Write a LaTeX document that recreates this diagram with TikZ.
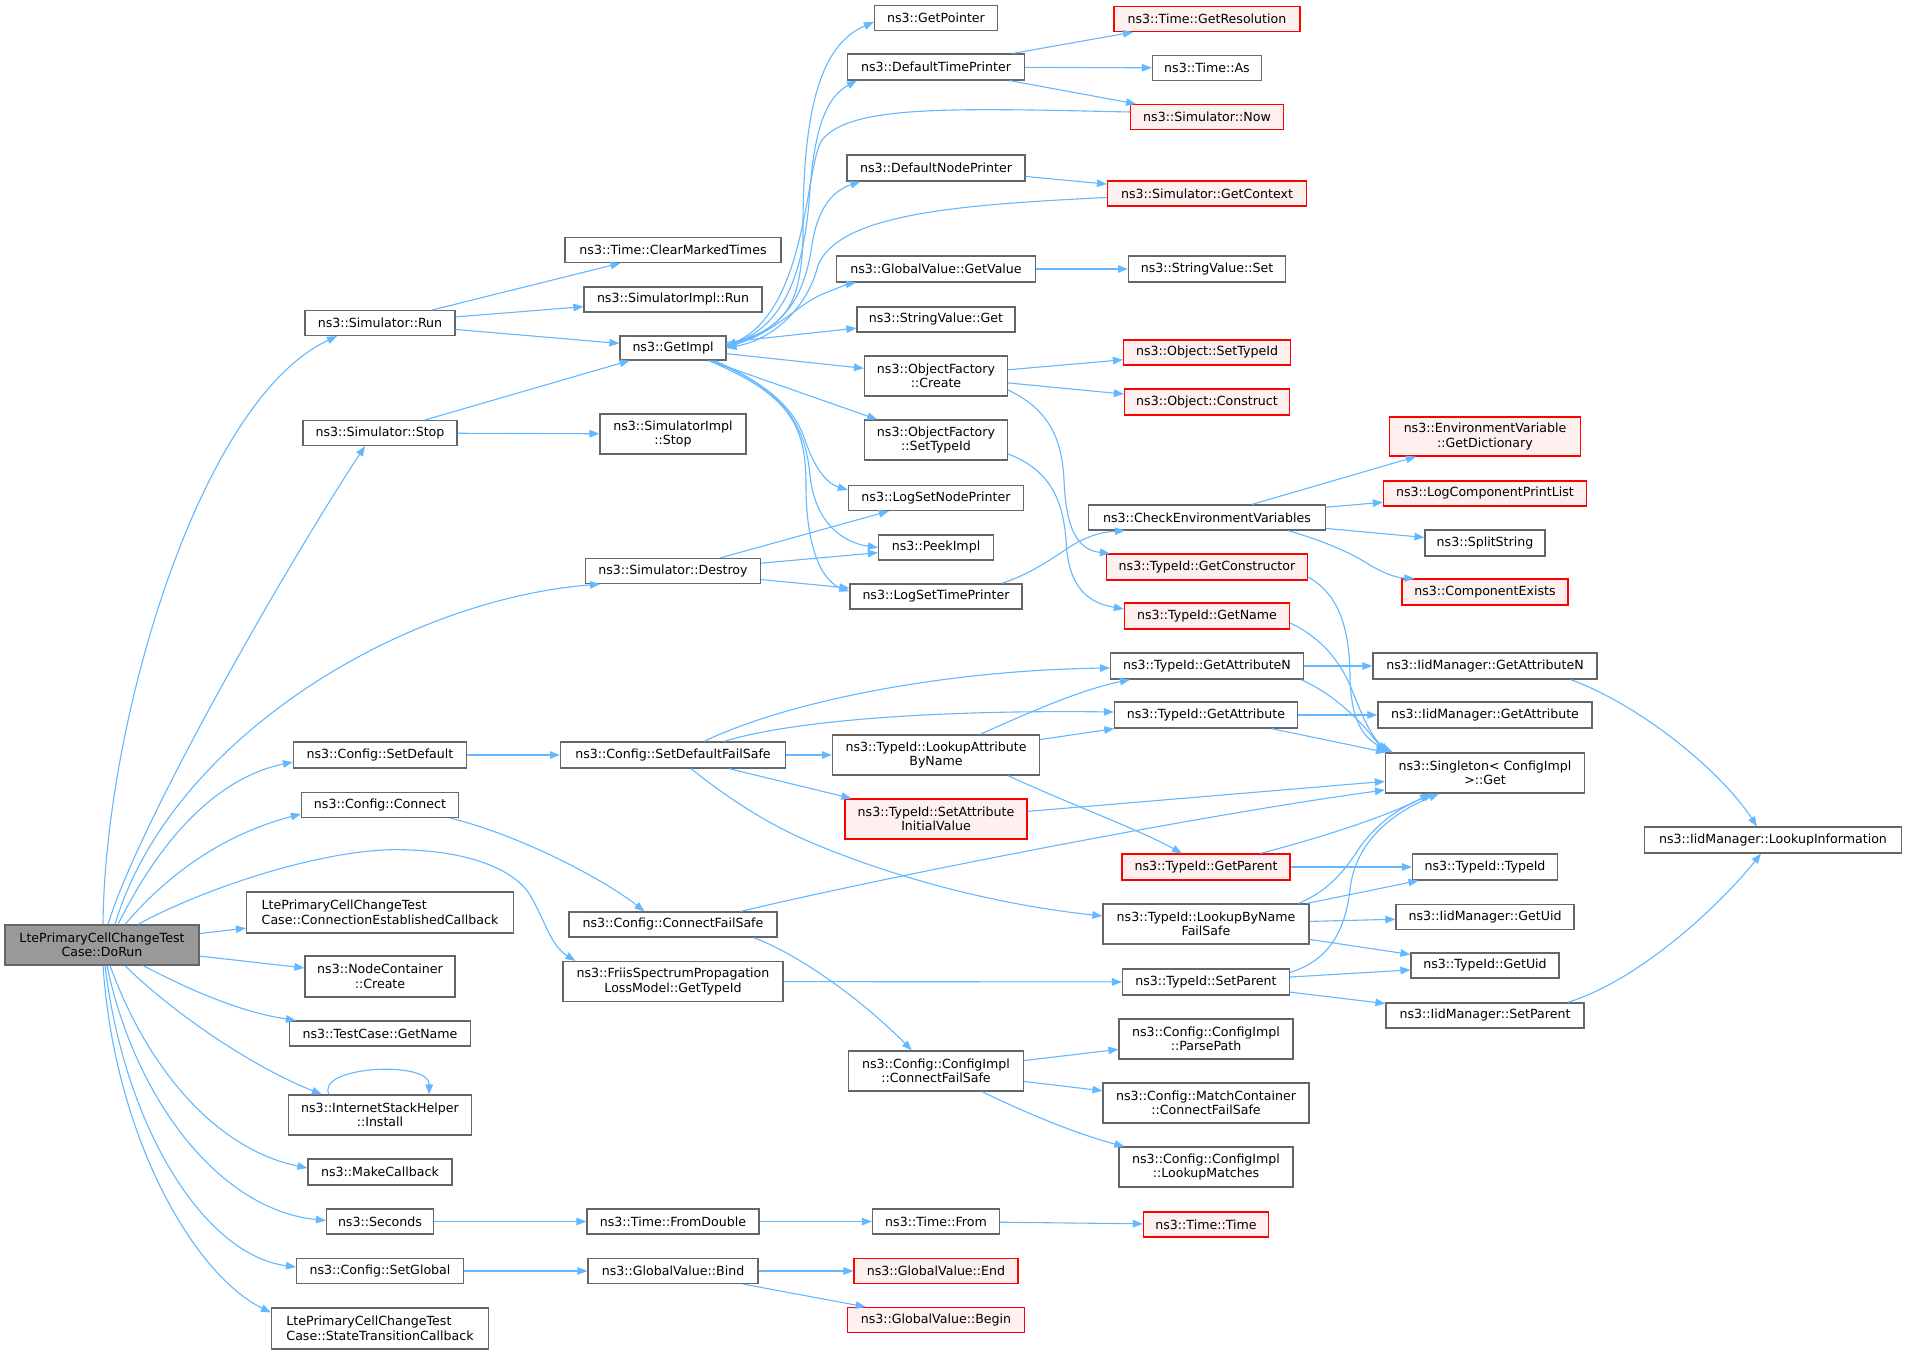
\documentclass[tikz,border=0pt]{standalone}
\usepackage{fontspec}
\setmainfont{DejaVu Sans}
\usetikzlibrary{arrows.meta,calc}
\definecolor{edgec}{HTML}{63B8FF}
\definecolor{bordc}{HTML}{666666}
\definecolor{redfill}{HTML}{FFF0F0}
\definecolor{grayfill}{HTML}{999999}
\newcommand\nodefont{\fontsize{12.6}{14.5}\selectfont}
\newcommand\mkbox[7][]{\node[nb,#1,minimum width=#5pt,minimum height=#6pt] (#2) at (#3,#4) {#7};}
\tikzset{
  nb/.style={draw=bordc, line width=1.2pt, fill=white, inner sep=0pt, align=center, font=\nodefont},
  nred/.style={draw=red, fill=redfill},
  ngray/.style={fill=grayfill},
  nleft/.style={align=left},
  ed/.style={draw=edgec, line width=1.1pt, -{Triangle[length=10pt,width=7.5pt]}},
}
\begin{document}
\begin{tikzpicture}[x=1pt,y=-1pt]
\useasboundingbox (0,0) rectangle (1908,1354);
\fill[white] (0,0) rectangle (1908,1354);
% column 0
\mkbox[ngray]{dorun}{102}{945}{194}{40}{LtePrimaryCellChangeTest\\Case::DoRun}
% column 1
\mkbox{srun}{380}{323}{150}{25}{ns3::Simulator::Run}
\mkbox{sstop}{380}{433}{154}{25}{ns3::Simulator::Stop}
\mkbox{setdefault}{380}{755}{173}{26}{ns3::Config::SetDefault}
\mkbox{connect}{380}{805}{157}{25}{ns3::Config::Connect}
\mkbox[nleft]{connectedcb}{380}{912.5}{267}{41}{LtePrimaryCellChangeTest\\Case::ConnectionEstablishedCallback}
\mkbox{nccreate}{380}{976.5}{150}{41}{ns3::NodeContainer\\::Create}
\mkbox{tcgetname}{380}{1033.5}{181}{25}{ns3::TestCase::GetName}
\mkbox{install}{380}{1115}{183}{40}{ns3::InternetStackHelper\\::Install}
\mkbox{makecb}{380}{1172}{144}{26}{ns3::MakeCallback}
\mkbox{seconds}{380}{1221.5}{107}{25}{ns3::Seconds}
\mkbox{setglobal}{380}{1271}{167}{25}{ns3::Config::SetGlobal}
\mkbox[nleft]{statecb}{380}{1328.5}{217}{41}{LtePrimaryCellChangeTest\\Case::StateTransitionCallback}
% column 2
\mkbox{clearmarked}{673}{250}{216}{25}{ns3::Time::ClearMarkedTimes}
\mkbox{simplrun}{673}{299.5}{178}{25}{ns3::SimulatorImpl::Run}
\mkbox{getimpl}{673}{348}{106}{24}{ns3::GetImpl}
\mkbox{simplstop}{673}{434}{146}{40}{ns3::SimulatorImpl\\::Stop}
\mkbox{destroy}{673}{571}{175}{25}{ns3::Simulator::Destroy}
\mkbox{sdfs}{673}{755}{225}{26}{ns3::Config::SetDefaultFailSafe}
\mkbox{connectfs}{673}{924.5}{208}{25}{ns3::Config::ConnectFailSafe}
\mkbox{friis}{673}{981.5}{220}{40}{ns3::FriisSpectrumPropagation\\LossModel::GetTypeId}
\mkbox{fromdouble}{673}{1221.5}{172}{25}{ns3::Time::FromDouble}
\mkbox{gvbind}{673}{1271}{170}{25}{ns3::GlobalValue::Bind}
% column 3
\mkbox{getpointer}{936}{18}{123}{25}{ns3::GetPointer}
\mkbox{defaulttp}{936}{67}{177}{26}{ns3::DefaultTimePrinter}
\mkbox{defaultnp}{936}{168}{178}{26}{ns3::DefaultNodePrinter}
\mkbox{gvgetvalue}{936}{269}{199}{26}{ns3::GlobalValue::GetValue}
\mkbox{svget}{936}{319.5}{158}{25}{ns3::StringValue::Get}
\mkbox{ofcreate}{936}{376}{143}{40}{ns3::ObjectFactory\\::Create}
\mkbox{ofsettypeid}{936}{440}{143}{40}{ns3::ObjectFactory\\::SetTypeId}
\mkbox{logsetnp}{936}{498}{175}{25}{ns3::LogSetNodePrinter}
\mkbox{peekimpl}{936}{547.5}{115}{25}{ns3::PeekImpl}
\mkbox{logsettp}{936}{596.5}{172}{25}{ns3::LogSetTimePrinter}
\mkbox{lookupattr}{936}{755}{207}{40}{ns3::TypeId::LookupAttribute\\ByName}
\mkbox[nred]{setattrinit}{936}{819}{182}{40}{ns3::TypeId::SetAttribute\\InitialValue}
\mkbox{cicfs}{936}{1071}{175}{40}{ns3::Config::ConfigImpl\\::ConnectFailSafe}
\mkbox{timefrom}{936}{1221.5}{127}{25}{ns3::Time::From}
\mkbox[nred]{gvend}{936}{1271}{164}{25}{ns3::GlobalValue::End}
\mkbox[nred]{gvbegin}{936}{1320}{177}{25}{ns3::GlobalValue::Begin}
% column 4
\mkbox[nred]{getres}{1207}{19}{186}{25}{ns3::Time::GetResolution}
\mkbox{timeas}{1207}{68}{109}{25}{ns3::Time::As}
\mkbox[nred]{simnow}{1207}{117}{153}{25}{ns3::Simulator::Now}
\mkbox[nred]{getcontext}{1207}{193.5}{199}{25}{ns3::Simulator::GetContext}
\mkbox{svset}{1207}{269}{157}{26}{ns3::StringValue::Set}
\mkbox[nred]{objsettypeid}{1207}{352.5}{167}{25}{ns3::Object::SetTypeId}
\mkbox[nred]{objconstruct}{1207}{402}{165}{26}{ns3::Object::Construct}
\mkbox{checkenv}{1207}{517.5}{237}{25}{ns3::CheckEnvironmentVariables}
\mkbox[nred]{getconstructor}{1207}{567}{201}{26}{ns3::TypeId::GetConstructor}
\mkbox[nred]{getname}{1207}{616}{165}{26}{ns3::TypeId::GetName}
\mkbox{getattrn}{1207}{666}{193}{26}{ns3::TypeId::GetAttributeN}
\mkbox{getattr}{1206}{715}{183}{26}{ns3::TypeId::GetAttribute}
\mkbox[nred]{getparent}{1206}{867}{168}{26}{ns3::TypeId::GetParent}
\mkbox{lbn}{1206}{924}{206}{40}{ns3::TypeId::LookupByName\\FailSafe}
\mkbox{setparent}{1206}{982}{167}{26}{ns3::TypeId::SetParent}
\mkbox{parsepath}{1206}{1039}{174}{40}{ns3::Config::ConfigImpl\\::ParsePath}
\mkbox{matchcfs}{1206}{1103}{206}{40}{ns3::Config::MatchContainer\\::ConnectFailSafe}
\mkbox{lookupmatches}{1206}{1167}{174}{40}{ns3::Config::ConfigImpl\\::LookupMatches}
\mkbox[nred]{timetime}{1206}{1224.5}{125}{25}{ns3::Time::Time}
% column 5
\mkbox[nred]{getdict}{1485}{436.5}{191}{39}{ns3::EnvironmentVariable\\::GetDictionary}
\mkbox[nred]{logcpl}{1485}{493.5}{203}{25}{ns3::LogComponentPrintList}
\mkbox{splitstring}{1485}{543}{120}{26}{ns3::SplitString}
\mkbox[nred]{compexists}{1485}{592}{166}{26}{ns3::ComponentExists}
\mkbox{iidgetattrn}{1485}{666}{224}{26}{ns3::IidManager::GetAttributeN}
\mkbox{iidgetattr}{1485}{715}{214}{26}{ns3::IidManager::GetAttribute}
\mkbox{singleton}{1485}{773}{199}{40}{ns3::Singleton< ConfigImpl\\ >::Get}
\mkbox{typeidtypeid}{1485}{867}{145}{26}{ns3::TypeId::TypeId}
\mkbox{iidgetuid}{1485}{917}{178}{25}{ns3::IidManager::GetUid}
\mkbox{typeidgetuid}{1485}{965.5}{148}{25}{ns3::TypeId::GetUid}
\mkbox{iidsetparent}{1485}{1015.5}{198}{25}{ns3::IidManager::SetParent}
% column 6
\mkbox{lookupinfo}{1773}{840}{257}{26}{ns3::IidManager::LookupInformation}

% ---- edges from DoRun
\draw[ed] ($(dorun.north)+(1,0)$) .. controls (105,720) and (200,400) .. ($(srun.south)+(-43,0)$);
\draw[ed] ($(dorun.north)+(6,0)$) .. controls (140,820) and (290,560) .. ($(sstop.south)+(-15,0)$);
\draw[ed] ($(dorun.north)+(13,0)$) .. controls (170,740) and (400,600) .. ($(destroy.south)+(-73,0)$);
\draw[ed] ($(dorun.north)+(16,0)$) .. controls (170,820) and (230,775) .. ($(setdefault.west)+(0,7)$);
\draw[ed] ($(dorun.north)+(23,0)$) .. controls (180,860) and (240,830) .. ($(connect.west)+(0,9)$);
\draw[ed] ($(dorun.north)+(36,0)$) .. controls (200,890) and (330,845) .. (410,850) .. controls (470,852) and (515,870) .. (530,895) .. controls (545,920) and (550,945) .. ($(friis.north west)+(13,0)$);
\draw[ed] (dorun) -- (connectedcb);
\draw[ed] (dorun) -- (nccreate);
\draw[ed] ($(dorun.south)+(41,0)$) .. controls (190,990) and (240,1012) .. ($(tcgetname.north west)+(7,0)$);
\draw[ed] ($(dorun.south)+(23,0)$) .. controls (175,1015) and (255,1068) .. ($(install.north west)+(34,0)$);
\draw[ed] ($(dorun.south)+(8,0)$) .. controls (150,1075) and (220,1150) .. ($(makecb.west)+(0,-4)$);
\draw[ed] ($(dorun.south)+(5,0)$) .. controls (135,1100) and (220,1210) .. ($(seconds.west)+(0,-1)$);
\draw[ed] ($(dorun.south)+(3,0)$) .. controls (125,1130) and (205,1255) .. ($(setglobal.west)+(0,-4)$);
\draw[ed] ($(dorun.south)+(1,0)$) .. controls (115,1140) and (195,1275) .. ($(statecb.west)+(0,-16)$);
% self loop
\draw[ed] ($(install.north)+(-51,0)$) .. controls (315,1066) and (430,1060) .. ($(install.north)+(49,0)$);

% ---- Simulator::Run / Stop / Destroy
\draw[ed] (srun) -- (clearmarked);
\draw[ed] (srun) -- (simplrun);
\draw[ed] (srun) -- (getimpl);
\draw[ed] (sstop) -- (getimpl);
\draw[ed] (sstop) -- (simplstop);
\draw[ed] (destroy) -- (logsetnp);
\draw[ed] (destroy) -- (peekimpl);
\draw[ed] (destroy) -- (logsettp);

% ---- GetImpl
\draw[ed] ($(getimpl.east)+(0,-4)$) .. controls (790,330) and (800,300) .. (803,240) .. controls (802,110) and (820,45) .. ($(getpointer.west)+(0,4)$);
\draw[ed] ($(getimpl.east)+(0,-3)$) .. controls (790,330) and (805,260) .. (810,190) .. controls (815,120) and (830,95) .. ($(defaulttp.south west)+(10,0)$);
\draw[ed] ($(getimpl.east)+(0,-2)$) .. controls (790,330) and (805,290) .. (812,245) .. controls (818,205) and (835,190) .. ($(defaultnp.south west)+(14,0)$);
\draw[ed] ($(getimpl.east)+(0,-1)$) .. controls (775,335) and (795,305) .. (825,293) .. controls (838,288) and (848,284) .. ($(gvgetvalue.south west)+(20,0)$);
\draw[ed] (getimpl) -- (svget);
\draw[ed] (getimpl) -- (ofcreate);
\draw[ed] (getimpl) -- (ofsettypeid);
\draw[ed] ($(getimpl.south east)+(-12,0)$) .. controls (770,385) and (795,410) .. (805,440) .. controls (815,470) and (828,484) .. ($(logsetnp.west)+(0,-8)$);
\draw[ed] ($(getimpl.south east)+(-15,0)$) .. controls (785,390) and (805,425) .. (810,475) .. controls (815,525) and (845,543) .. (peekimpl.west);
\draw[ed] ($(getimpl.south east)+(-18,0)$) .. controls (790,395) and (806,425) .. (806,485) .. controls (806,555) and (825,582) .. ($(logsettp.west)+(0,-5)$);
\draw[ed] ($(simnow.west)+(0,-5)$) .. controls (950,108) and (850,105) .. (822,140) .. controls (805,165) and (808,310) .. ($(getimpl.east)+(0,-2)$);
\draw[ed] ($(getcontext.west)+(0,4)$) .. controls (950,205) and (840,215) .. (818,265) .. controls (810,300) and (780,338) .. (getimpl.east);

% ---- printers and factories
\draw[ed] (defaulttp) -- (getres);
\draw[ed] (defaulttp) -- (timeas);
\draw[ed] (defaulttp) -- (simnow);
\draw[ed] (defaultnp) -- (getcontext);
\draw[ed] (gvgetvalue) -- (svset);
\draw[ed] (ofcreate) -- (objsettypeid);
\draw[ed] (ofcreate) -- (objconstruct);
\draw[ed] ($(ofcreate.east)+(0,14)$) .. controls (1050,410) and (1062,440) .. (1064,480) .. controls (1066,530) and (1078,550) .. ($(getconstructor.north west)+(4,0)$);
\draw[ed] ($(ofsettypeid.east)+(0,14)$) .. controls (1050,470) and (1063,500) .. (1066,540) .. controls (1068,590) and (1090,603) .. ($(getname.west)+(0,-7)$);
\draw[ed] ($(logsettp.north east)+(-21,0)$) .. controls (1030,574) and (1050,560) .. (1068,548) .. controls (1085,537) and (1100,532) .. ($(checkenv.south west)+(37,0)$);
\draw[ed] (checkenv) -- (getdict);
\draw[ed] (checkenv) -- (logcpl);
\draw[ed] (checkenv) -- (splitstring);
\draw[ed] ($(checkenv.south)+(81,0)$) .. controls (1320,540) and (1345,550) .. (1365,562) .. controls (1382,573) and (1397,578) .. ($(compexists.north west)+(13,0)$);

% ---- into Singleton
\draw[ed] ($(getconstructor.east)+(0,10)$) .. controls (1340,595) and (1350,630) .. (1350,680) .. controls (1352,725) and (1365,740) .. ($(singleton.north west)+(8,0)$);
\draw[ed] ($(getname.east)+(0,7)$) .. controls (1320,637) and (1340,660) .. (1352,690) .. controls (1362,715) and (1370,735) .. ($(singleton.north west)+(4,0)$);
\draw[ed] ($(getattrn.south east)+(-3,0)$) .. controls (1335,695) and (1360,720) .. (singleton.north west);
\draw[ed] (getattrn) -- (iidgetattrn);
\draw[ed] ($(iidgetattrn.south east)+(-27,0)$) .. controls (1640,705) and (1720,770) .. ($(lookupinfo.north)+(-16,0)$);
\draw[ed] (getattr) -- (iidgetattr);
\draw[ed] (getattr) -- (singleton);

% ---- SetDefault chain
\draw[ed] (setdefault) -- (sdfs);
\draw[ed] ($(sdfs.north)+(31,0)$) .. controls (790,700) and (950,670) .. ($(getattrn.west)+(0,2)$);
\draw[ed] ($(sdfs.north east)+(-62,0)$) .. controls (800,718) and (960,710) .. ($(getattr.west)+(0,-3)$);
\draw[ed] (sdfs) -- (lookupattr);
\draw[ed] (sdfs) -- (setattrinit);
\draw[ed] ($(sdfs.south)+(18,0)$) .. controls (730,800) and (770,825) .. (810,842) .. controls (900,880) and (1000,905) .. ($(lbn.west)+(0,-8)$);
\draw[ed] ($(lookupattr.north)+(44,0)$) .. controls (1030,712) and (1080,690) .. ($(getattrn.south west)+(20,0)$);
\draw[ed] (lookupattr) -- (getattr);
\draw[ed] ($(lookupattr.south)+(72,0)$) .. controls (1060,800) and (1140,830) .. ($(getparent.north)+(-24,0)$);
\draw[ed] (setattrinit) -- (singleton);

% ---- Connect chain
\draw[ed] ($(connect.south east)+(-9,0)$) .. controls (520,835) and (605,880) .. ($(connectfs.north west)+(76,0)$);
\draw[ed] ($(connectfs.north east)+(-37,0)$) .. controls (880,878) and (1200,815) .. ($(singleton.west)+(0,17)$);
\draw[ed] ($(connectfs.south east)+(-24,0)$) .. controls (800,955) and (862,1000) .. ($(cicfs.north west)+(64,0)$);
\draw[ed] (cicfs) -- (parsepath);
\draw[ed] (cicfs) -- (matchcfs);
\draw[ed] ($(cicfs.south)+(46,0)$) .. controls (1030,1115) and (1080,1135) .. ($(lookupmatches.north west)+(6,0)$);

% ---- TypeId
\draw[ed] ($(getparent.north east)+(-30,0)$) .. controls (1330,835) and (1390,815) .. ($(singleton.south)+(-55,0)$);
\draw[ed] (getparent) -- (typeidtypeid);
\draw[ed] ($(lbn.north east)+(-11,0)$) .. controls (1330,890) and (1345,870) .. (1360,847) .. controls (1380,820) and (1400,808) .. ($(singleton.south)+(-52,0)$);
\draw[ed] (lbn) -- (typeidtypeid);
\draw[ed] (lbn) -- (iidgetuid);
\draw[ed] (lbn) -- (typeidgetuid);
\draw[ed] (friis) -- (setparent);
\draw[ed] ($(setparent.north east)+(0,4)$) .. controls (1330,960) and (1345,930) .. (1350,890) .. controls (1355,840) and (1395,812) .. ($(singleton.south)+(-46,0)$);
\draw[ed] (setparent) -- (typeidgetuid);
\draw[ed] (setparent) -- (iidsetparent);
\draw[ed] ($(iidsetparent.north east)+(-17,0)$) .. controls (1640,980) and (1720,905) .. ($(lookupinfo.south)+(-12,0)$);

% ---- time / global value
\draw[ed] (seconds) -- (fromdouble);
\draw[ed] (fromdouble) -- (timefrom);
\draw[ed] (timefrom) -- (timetime);
\draw[ed] (setglobal) -- (gvbind);
\draw[ed] (gvbind) -- (gvend);
\draw[ed] (gvbind) -- (gvbegin);
\end{tikzpicture}
\end{document}
